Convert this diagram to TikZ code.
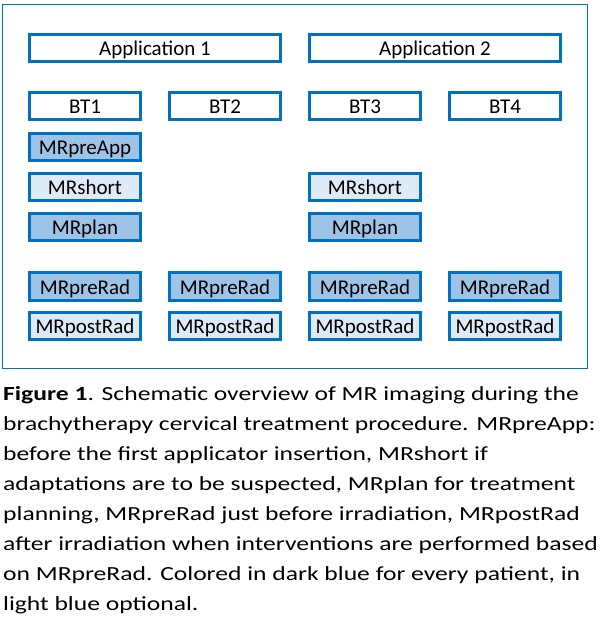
\documentclass[tikz,border=0pt]{standalone}
\usepackage{fontspec}
\setmainfont{Carlito}
\newfontfamily\capfont[FakeStretch=1.28]{Carlito}
\definecolor{bord}{HTML}{0070C0}
\definecolor{dark}{HTML}{9DC3E6}
\definecolor{light}{HTML}{DEEBF7}
\begin{document}
\begin{tikzpicture}[x=1pt,y=-1pt,
  box/.style={draw=bord,line width=3pt,minimum width=111pt,minimum height=27.5pt,inner sep=0pt,text height=15.5pt,text depth=0pt,font=\fontsize{21}{24}\selectfont,text=black},
  appbox/.style={box,minimum width=251pt},
  darkbox/.style={box,fill=dark},
  lightbox/.style={box,fill=light},
  captext/.style={anchor=base west,inner sep=0pt,font=\capfont\fontsize{20}{26}\selectfont}]
\useasboundingbox (0,0) rectangle (602,634);
\draw[bord,line width=1.5pt] (2.5,4.5) rectangle (587.5,368.5);
\node[appbox] (app1) at (155,48) {Application 1};
\node[appbox] (app2) at (435,48) {Application 2};
\node[box] (bt1) at (85,106) {BT1};
\node[box] (bt2) at (225,106) {BT2};
\node[box] (bt3) at (365,106) {BT3};
\node[box] (bt4) at (505,106) {BT4};
\node[darkbox] (preapp) at (85,147) {MRpreApp};
\node[lightbox] (short1) at (85,187) {MRshort};
\node[lightbox] (short3) at (365,187) {MRshort};
\node[darkbox] (plan1) at (85,227) {MRplan};
\node[darkbox] (plan3) at (365,227) {MRplan};
\node[darkbox] (prerad1) at (85,286.5) {MRpreRad};
\node[darkbox] (prerad2) at (225,286.5) {MRpreRad};
\node[darkbox] (prerad3) at (365,286.5) {MRpreRad};
\node[darkbox] (prerad4) at (505,286.5) {MRpreRad};
\node[lightbox] (post1) at (85,326) {MRpostRad};
\node[lightbox] (post2) at (225,326) {MRpostRad};
\node[lightbox] (post3) at (365,326) {MRpostRad};
\node[lightbox] (post4) at (505,326) {MRpostRad};
\node[captext] (c1) at (3,400.5) {\textbf{Figure 1}. Schematic overview of MR imaging during the};
\node[captext] (c2) at (3,430.5) {brachytherapy cervical treatment procedure. MRpreApp:};
\node[captext] (c3) at (3,460.5) {before the first applicator insertion, MRshort if};
\node[captext] (c4) at (3,490.5) {adaptations are to be suspected, MRplan for treatment};
\node[captext] (c5) at (3,520.5) {planning, MRpreRad just before irradiation, MRpostRad};
\node[captext] (c6) at (3,550.5) {after irradiation when interventions are performed based};
\node[captext] (c7) at (3,580.5) {on MRpreRad. Colored in dark blue for every patient, in};
\node[captext] (c8) at (3,610.5) {light blue optional.};
\end{tikzpicture}
\end{document}
